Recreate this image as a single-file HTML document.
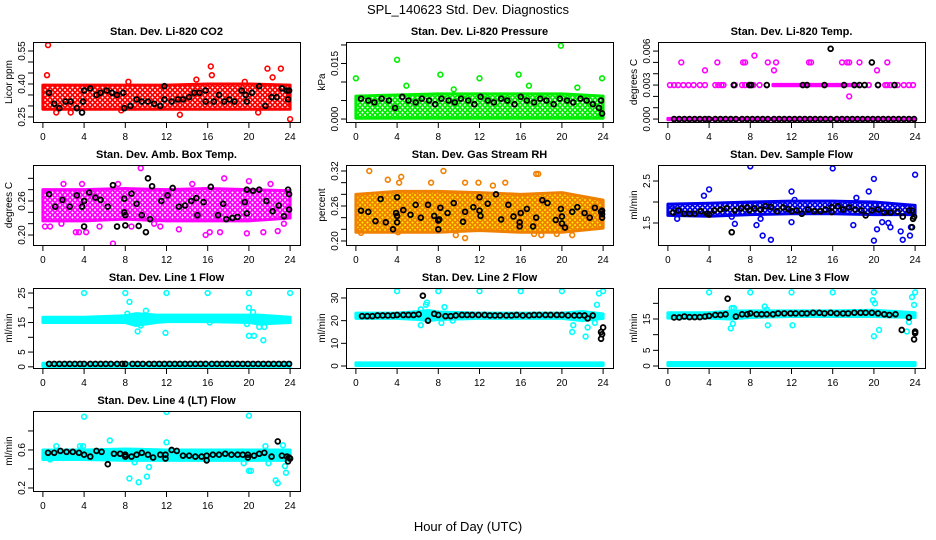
<!DOCTYPE html>
<html><head><meta charset="utf-8"><style>
body{margin:0;background:#fff}
svg{display:block;font-family:"Liberation Sans",sans-serif}
</style></head><body>
<svg id="chart" width="936" height="540" viewBox="0 0 936 540">
<text x="468" y="14" text-anchor="middle" font-size="13">SPL_140623  Std. Dev. Diagnostics</text>
<text x="468" y="531" text-anchor="middle" font-size="13">Hour of Day (UTC)</text>
</svg>
<script>
// ---- data ----
const xTicks = [0,4,8,12,16,20,24];
// CO2
const co2BandHours=[0,4,8,12,16,20,24], co2BandLo=[0.285,0.285,0.285,0.285,0.285,0.285,0.285], co2BandHi=[0.395,0.395,0.395,0.395,0.4,0.4,0.395];
const co2Out=[[0.5,0.577],[0.4,0.44],[16.3,0.48],[16.4,0.44],[21.8,0.47],[23.1,0.47],[22.3,0.43],[20.9,0.27],[24,0.24],[13.3,0.26],[1.3,0.27],[7.6,0.28],[2.7,0.27],[14.9,0.42],[8.3,0.41],[19.6,0.41]];
const co2Black=[[0.6,0.36],[1.1,0.31],[1.6,0.29],[2.2,0.32],[2.7,0.32],[3.3,0.29],[3.8,0.27],[3.9,0.32],[4.0,0.37],[4.6,0.38],[5.2,0.35],[5.6,0.36],[6.2,0.37],[6.7,0.36],[7.2,0.35],[7.8,0.36],[7.9,0.29],[8.5,0.30],[9.1,0.33],[9.6,0.32],[10.2,0.32],[10.8,0.31],[11.4,0.30],[11.8,0.33],[11.8,0.39],[12.5,0.32],[13.1,0.33],[13.6,0.33],[14.2,0.34],[14.7,0.36],[15.2,0.36],[15.8,0.37],[15.8,0.32],[16.6,0.32],[17.1,0.35],[17.6,0.32],[18.1,0.33],[18.6,0.32],[19.3,0.37],[19.7,0.35],[19.8,0.32],[20.3,0.36],[21.0,0.39],[21.6,0.30],[22.2,0.34],[22.7,0.34],[23.2,0.38],[23.7,0.37],[23.8,0.33],[23.9,0.37]];
// Pressure
const prBandHours=[0,4,8,12,16,20,24], prBandLo=[0.0002,0.0002,0.0002,0.0002,0.0002,0.0002,0.0002], prBandHi=[0.0062,0.0065,0.0068,0.0068,0.0068,0.0068,0.0062];
const prOut=[[0,0.011],[4,0.016],[8.2,0.012],[12,0.011],[15.8,0.012],[19.9,0.0198],[4.9,0.009],[23.9,0.011],[16.8,0.009],[9.5,0.008],[21.5,0.0085]];
const prBlack=[[0.5,0.0055],[1.2,0.005],[1.8,0.0045],[2.5,0.0055],[3.2,0.005],[3.8,0.003],[4.5,0.006],[5.1,0.005],[5.8,0.0045],[6.4,0.0055],[7.1,0.005],[7.7,0.004],[8.3,0.0055],[9.0,0.005],[9.6,0.0045],[10.2,0.0055],[10.9,0.005],[11.5,0.004],[12.1,0.006],[12.8,0.005],[13.4,0.0045],[14.1,0.0055],[14.7,0.005],[15.4,0.004],[16,0.006],[16.6,0.005],[17.3,0.0045],[17.9,0.0055],[18.5,0.005],[19.2,0.004],[19.8,0.0055],[20.5,0.005],[21.1,0.0045],[21.8,0.0055],[22.4,0.005],[23.0,0.004],[23.6,0.003],[23.9,0.0015],[23.8,0.005]];
// Li-820 Temp
const tpBandHours=[0,24], tpBandLo=[-0.00006,-0.00006], tpBandHi=[0.00006,0.00006];
const tpMidBandHours=[10.2,18.5], tpMidBandLo=[0.00294,0.00294], tpMidBandHi=[0.00306,0.00306];
const tpOut=[[0.2,0.003],[0.6,0.003],[1.0,0.003],[1.5,0.003],[2.0,0.003],[2.5,0.003],[3.1,0.003],[3.6,0.003],[4.6,0.003],[4.9,0.003],[5.2,0.003],[5.4,0.003],[6.5,0.003],[7.2,0.003],[7.5,0.003],[8.0,0.003],[8.3,0.003],[8.9,0.003],[9.6,0.003],[19.5,0.003],[20.4,0.003],[21.1,0.003],[21.3,0.003],[21.6,0.003],[22.3,0.003],[22.9,0.003],[23.4,0.003],[23.8,0.003],[1.3,0.005],[3.6,0.0043],[4.8,0.005],[7.3,0.005],[7.5,0.005],[8.4,0.0056],[9.7,0.005],[10.3,0.0043],[10.5,0.005],[13.7,0.005],[13.9,0.005],[16.9,0.005],[17.4,0.005],[17.6,0.005],[17.6,0.002],[18.6,0.005],[20.3,0.0043],[21.3,0.005]];
const tpBlack=[[6.4,0.003],[7.9,0.003],[8.1,0.003],[9.6,0.003],[13.1,0.003],[13.5,0.003],[15.2,0.003],[17.1,0.003],[18.1,0.003],[18.6,0.003],[19.1,0.003],[20.4,0.003],[22.0,0.003],[15.8,0.0062],[19.8,0.005],[0.6,0],[1.1,0],[1.6,0],[2.1,0],[2.6,0],[3.1,0],[3.6,0],[4.0,0],[4.6,0],[5.1,0],[5.6,0],[6.1,0],[6.6,0],[7.2,0],[7.7,0],[8.2,0],[8.7,0],[9.2,0],[9.7,0],[10.3,0],[10.8,0],[11.3,0],[11.8,0],[12.3,0],[12.8,0],[13.3,0],[13.8,0],[14.3,0],[14.8,0],[15.3,0],[15.8,0],[16.4,0],[16.9,0],[17.4,0],[17.9,0],[18.4,0],[18.9,0],[19.4,0],[19.9,0],[20.4,0],[20.9,0],[21.4,0],[21.9,0],[22.4,0],[22.9,0],[23.4,0],[23.9,0]];
// Amb box temp
const abBandHours=[0,4,8,12,16,20,24], abBandLo=[0.225,0.225,0.228,0.225,0.225,0.225,0.23], abBandHi=[0.28,0.28,0.282,0.28,0.282,0.28,0.278];
const abOut=[[9.5,0.318],[7.3,0.29],[17.6,0.30],[20,0.295],[6.8,0.185],[0.2,0.215],[3.2,0.205],[3.5,0.205],[4.2,0.205],[11.4,0.215],[15.8,0.2],[16.2,0.205],[17.2,0.205],[19.8,0.203],[21.4,0.205],[22.8,0.207],[8.6,0.215],[10.8,0.22],[1.8,0.22],[13.2,0.21],[23.4,0.22],[0.7,0.215],[5.5,0.215],[2.0,0.29],[3.8,0.29],[14.5,0.29],[22.1,0.29]];
const abBlack=[[0.6,0.272],[1.2,0.25],[1.9,0.262],[2.6,0.25],[3.3,0.27],[3.8,0.25],[4.0,0.215],[4.0,0.26],[4.5,0.275],[5.1,0.266],[5.6,0.262],[6.3,0.25],[6.8,0.288],[7.2,0.215],[7.9,0.264],[7.9,0.24],[8.0,0.235],[8.0,0.217],[8.6,0.273],[9.1,0.255],[9.3,0.216],[9.6,0.235],[10.2,0.3],[10.0,0.205],[10.4,0.228],[10.6,0.286],[11.5,0.26],[12.1,0.27],[12.6,0.283],[13.2,0.25],[13.8,0.252],[14.4,0.26],[14.9,0.265],[15.0,0.235],[15.6,0.258],[16.3,0.285],[17.0,0.235],[17.5,0.255],[17.8,0.228],[18.4,0.23],[18.9,0.232],[19.6,0.258],[19.8,0.238],[19.8,0.28],[20.4,0.278],[21.0,0.28],[21.7,0.26],[22.3,0.242],[22.9,0.252],[23.4,0.233],[23.8,0.28],[23.9,0.272],[23.9,0.245]];
// Gas stream RH
const rhBandHours=[0,4,8,12,16,20,24], rhBandLo=[0.215,0.215,0.215,0.218,0.215,0.215,0.222], rhBandHi=[0.28,0.285,0.285,0.283,0.28,0.283,0.27];
const rhOut=[[1.3,0.32],[3.1,0.305],[4.2,0.30],[4.4,0.31],[8.5,0.32],[14.5,0.3],[17.5,0.315],[17.7,0.315],[11.9,0.3],[10.6,0.3],[13.3,0.295],[7.3,0.3],[10.6,0.205],[18,0.21],[17.3,0.212],[19.5,0.212],[4.1,0.215],[0.5,0.214],[9.7,0.21],[21,0.21]];
const rhBlack=[[0.5,0.252],[1.2,0.25],[1.9,0.234],[2.4,0.272],[2.9,0.232],[3.6,0.22],[4.0,0.275],[3.9,0.248],[4.0,0.243],[4.0,0.232],[4.6,0.253],[5.3,0.245],[5.8,0.262],[6.3,0.24],[7.0,0.262],[7.6,0.243],[8.2,0.257],[8.0,0.235],[8.1,0.237],[8.0,0.22],[8.9,0.248],[9.5,0.265],[10.4,0.233],[10.6,0.25],[11.4,0.258],[12.0,0.252],[12.1,0.243],[12.0,0.275],[12.8,0.264],[13.6,0.28],[14.1,0.237],[14.8,0.262],[15.3,0.242],[15.9,0.232],[16.0,0.248],[15.9,0.225],[16.6,0.255],[17.2,0.225],[17.5,0.24],[18.1,0.27],[18.6,0.265],[19.4,0.236],[19.9,0.255],[20.0,0.242],[20.0,0.23],[20.3,0.223],[21.0,0.25],[21.5,0.258],[22.2,0.248],[22.7,0.24],[23.2,0.257],[23.8,0.25],[23.9,0.24],[23.9,0.246],[23.9,0.252]];
// Sample flow
const sfBandHours=[0,4,8,12,16,20,24], sfBandLo=[1.68,1.66,1.7,1.72,1.72,1.7,1.7], sfBandHi=[1.95,1.97,2.0,2.02,2.02,2.0,1.92];
const sfOut=[[8,2.85],[16,2.8],[24,2.65],[20,2.55],[4,2.3],[19.5,2.25],[12,2.25],[3.5,2.15],[18.3,2.1],[12.3,2.05],[6.2,1.65],[6.5,1.48],[8.6,1.45],[9.2,1.2],[10,1.1],[12,1.52],[18,1.45],[20,1.08],[20.3,1.35],[20.8,1.52],[21.6,1.4],[21.4,1.5],[22.6,1.3],[22.8,1.1],[23.5,1.2],[23.6,1.4],[9.0,1.6],[0.9,1.6],[0.3,1.9]];
const sfBlack=[[0.5,1.75],[1.0,1.8],[1.6,1.72],[2.1,1.72],[2.6,1.72],[3.2,1.78],[3.8,1.72],[4.0,1.7],[4.5,1.8],[5.1,1.82],[5.7,1.85],[6.2,1.28],[6.5,1.8],[7.1,1.85],[7.7,1.87],[7.9,1.8],[8.4,1.85],[9.0,1.82],[9.5,1.9],[10.0,1.88],[10.6,1.78],[11.2,1.87],[11.7,1.83],[12.0,1.78],[12.5,1.8],[13.0,1.72],[13.6,1.82],[14.2,1.78],[14.8,1.78],[15.3,1.82],[15.9,1.88],[15.9,1.76],[16.5,1.9],[17.0,1.82],[17.6,1.87],[18.2,1.82],[18.8,1.8],[19.2,1.68],[19.8,1.8],[20.4,1.82],[21.0,1.75],[21.6,1.75],[22.3,1.77],[22.8,1.65],[23.4,1.8],[23.7,1.8],[23.8,1.6],[23.9,1.65],[23.7,1.4]];
// Line 1
const l1BandHours=[0,4,8,9,10,11,12,16,20,21,24], l1BandLo=[15,15,15,14,14.5,15,15.3,15.3,15,14.5,15], l1BandHi=[16.8,16.8,17.3,18,17.8,17.5,17.5,17.5,17.5,17.5,16.8];
const l1LowBandHours=[0,24], l1LowBandLo=[0.1,0.1], l1LowBandHi=[1.2,1.2];
const l1Out=[[4,25],[8,25],[12,25],[16,25],[20,25],[24,25],[8.4,22],[8.2,18],[10,19],[9.8,17],[9.2,12],[11.9,11.5],[20,20],[20.4,18.5],[20,10.5],[20.5,10.5],[21.4,9],[21,13.5],[21.5,13.5],[9.5,14],[16.2,15],[19.8,14.5]];
const l1Black=[[0.6,1],[1.1,1],[1.6,1],[2.1,1],[2.6,1],[3.1,1],[3.6,1],[4.0,1],[4.6,1],[5.1,1],[5.6,1],[6.1,1],[6.6,1],[7.2,1],[7.7,1],[8.0,1],[8.7,1],[9.2,1],[9.7,1],[10.3,1],[10.8,1],[11.3,1],[11.8,1],[12.3,1],[12.8,1],[13.3,1],[13.8,1],[14.3,1],[14.8,1],[15.3,1],[15.8,1],[16.4,1],[16.9,1],[17.4,1],[17.9,1],[18.4,1],[18.9,1],[19.4,1],[19.9,1],[20.4,1],[20.9,1],[21.4,1],[21.9,1],[22.4,1],[22.9,1],[23.4,1],[23.9,1]];
// Line 2
const l2BandHours=[0,4,6,7,8,12,16,20,22,24], l2BandLo=[21,21,20.5,20,20.5,21,21,21,20,21], l2BandHi=[23.3,23.3,24,24.5,23.8,23.3,23.3,23.3,24,23];
const l2LowBandHours=[0,24], l2LowBandLo=[0.2,0.2], l2LowBandHi=[1.4,1.4];
const l2Out=[[4,33],[8,33],[12,33],[16,33],[20,33],[23.6,32],[24,33],[6.3,25],[6.5,22],[6.9,28],[6.8,27],[6.3,18],[8.6,26],[8.3,19],[9.4,20],[21.0,15],[21.1,18],[22.3,13],[23.4,27],[22.5,17],[23.2,19]];
const l2Black=[[0.6,22],[1.1,22],[1.6,22],[2.1,22.3],[2.6,22.3],[3.1,22.3],[3.6,22.3],[4.0,22.5],[4.6,22.5],[5.1,22.5],[5.6,22.5],[6.1,22.8],[6.5,31],[7.0,20],[7.6,23],[8.0,22.5],[8.7,22],[9.2,22],[9.7,22.3],[10.3,22.5],[10.8,22.5],[11.3,22.5],[11.9,22.5],[12.5,22.5],[13.0,22.3],[13.5,22.3],[14.0,22.3],[14.6,22.3],[15.1,22.3],[15.6,22.5],[16.2,22.3],[16.8,22.3],[17.3,22.5],[17.8,22.5],[18.4,22.5],[18.9,22.5],[19.5,22.5],[20.0,22.5],[20.6,22.3],[21.2,22.3],[21.7,22.3],[22.2,22.3],[22.5,21],[23.0,22.3],[23.8,12],[23.9,14],[23.8,15],[24,17]];
// Line 3
const l3BandHours=[0,4,6,8,12,16,20,24], l3BandLo=[15.3,15.3,15,15.5,15.8,15.8,15.8,15.5], l3BandHi=[17,17,17.5,17.6,17.6,17.6,17.8,17];
const l3LowBandHours=[0,24], l3LowBandLo=[0.1,0.1], l3LowBandHi=[1.1,1.1];
const l3Out=[[4,23.5],[8,23.5],[12,23.5],[16,23.5],[20,23.5],[24,23.5],[6.2,18.5],[6.4,18.5],[6.3,13.5],[6.1,12],[9.4,19],[9.6,18],[9.7,13],[12.1,13],[19.9,21],[20.1,20],[20.0,9.5],[20.5,11.5],[23.2,11],[23.7,22],[23.9,19.5],[23.4,14]];
const l3Black=[[0.6,15.5],[1.1,15.5],[1.6,15.8],[2.1,15.6],[2.6,15.6],[3.1,15.6],[3.6,15.8],[4.0,16],[4.6,16.3],[5.1,16.3],[5.6,16.5],[5.8,21.5],[6.6,15.8],[7.2,16.5],[7.7,16.5],[8.0,16.8],[8.6,16.5],[9.1,16.5],[9.6,16.5],[10.2,16.5],[10.7,16.8],[11.3,16.8],[11.9,16.8],[12.4,16.8],[13.0,16.8],[13.5,16.8],[14.1,17],[14.7,17],[15.2,16.8],[15.8,17],[16.4,16.8],[17.0,16.8],[17.5,16.8],[18.1,17],[18.7,17],[19.2,17],[19.8,17],[20.4,16.8],[21.0,16.5],[21.5,16.3],[22.1,16.5],[22.7,11.5],[23.4,15.5],[23.9,8.5],[24,10.5],[24.0,11]];
// Line 4
const l4BandHours=[0,4,8,12,16,20,24], l4BandLo=[0.5,0.5,0.49,0.49,0.49,0.49,0.49], l4BandHi=[0.6,0.6,0.61,0.6,0.6,0.6,0.6];
const l4Out=[[4,0.95],[12,1.0],[20,0.96],[6.5,0.7],[12,0.68],[8.4,0.3],[9.3,0.26],[10.1,0.32],[10.3,0.42],[19.5,0.46],[20,0.38],[20.2,0.38],[21.6,0.64],[22.6,0.28],[22.8,0.25],[23.6,0.36],[23.5,0.43],[23.3,0.65],[1.3,0.64],[3.6,0.64],[3.9,0.64],[21.9,0.46],[0.7,0.5],[8.9,0.47]];
const l4Black=[[0.5,0.57],[1.1,0.57],[1.7,0.59],[2.3,0.58],[2.9,0.58],[3.5,0.57],[4.0,0.55],[4.6,0.53],[5.2,0.59],[5.7,0.58],[6.3,0.45],[6.9,0.56],[7.5,0.56],[8.0,0.55],[8.0,0.53],[8.6,0.53],[9.1,0.55],[9.6,0.57],[10.2,0.55],[10.7,0.52],[11.4,0.55],[11.9,0.51],[11.9,0.55],[12.5,0.6],[13.0,0.59],[13.6,0.54],[14.2,0.54],[14.8,0.53],[15.4,0.53],[15.9,0.49],[15.9,0.54],[16.5,0.55],[17.1,0.55],[17.7,0.56],[18.3,0.55],[18.9,0.55],[19.4,0.55],[19.9,0.52],[19.9,0.55],[20.5,0.54],[21.0,0.56],[21.5,0.57],[22.2,0.53],[22.8,0.69],[23.2,0.54],[23.7,0.53],[23.8,0.48],[24.0,0.51],[23.9,0.52]];

// ---- drawing ----
const NS='http://www.w3.org/2000/svg';
const svg=document.getElementById('chart');
function mk(tag,attrs,parent){const e=document.createElementNS(NS,tag);for(const k in attrs)e.setAttribute(k,attrs[k]);(parent||svg).appendChild(e);return e;}
const defs=mk('defs',{});
const colX=[33,346,658], rowY=[42,165,288,411], W=267, H=80;
const panels=[
 {key:'co2',title:'Stan. Dev. Li-820 CO2',ylab:'Licor ppm',c:0,r:0,ylim:[0.227,0.591],ticks:[0.25,0.3,0.35,0.4,0.45,0.5,0.55],labels:{'0.25':'0.25','0.4':'0.40','0.55':'0.55'},col:'#ff0000',bg:'#ffffff',bands:[[co2BandHours,co2BandLo,co2BandHi]],out:co2Out,blk:co2Black},
 {key:'pressure',title:'Stan. Dev. Li-820 Pressure',ylab:'kPa',c:1,r:0,ylim:[-0.0008,0.0208],ticks:[0,0.005,0.01,0.015,0.02],labels:{'0':'0.000','0.015':'0.015'},col:'#00ee00',bg:'#ffffff',bands:[[prBandHours,prBandLo,prBandHi]],out:prOut,blk:prBlack},
 {key:'li820-temp',title:'Stan. Dev. Li-820 Temp.',ylab:'degrees C',c:2,r:0,ylim:[-0.00026,0.0068],ticks:[0,0.001,0.002,0.003,0.004,0.005,0.006],labels:{'0':'0.000','0.003':'0.003','0.006':'0.006'},col:'#ff00ff',bg:'#ff00ff',bands:[[tpBandHours,tpBandLo,tpBandHi],[tpMidBandHours,tpMidBandLo,tpMidBandHi]],out:tpOut,blk:tpBlack},
 {key:'amb-box-temp',title:'Stan. Dev. Amb. Box Temp.',ylab:'degrees C',c:0,r:1,ylim:[0.1824,0.3235],ticks:[0.2,0.22,0.24,0.26,0.28,0.3],labels:{'0.2':'0.20','0.26':'0.26'},col:'#ff00ff',bg:'#ffffff',bands:[[abBandHours,abBandLo,abBandHi]],out:abOut,blk:abBlack},
 {key:'gas-stream-rh',title:'Stan. Dev. Gas Stream RH',ylab:'percent',c:1,r:1,ylim:[0.1931,0.3303],ticks:[0.2,0.22,0.24,0.26,0.28,0.3,0.32],labels:{'0.2':'0.20','0.26':'0.26','0.32':'0.32'},col:'#f08000',bg:'#ffee00',bands:[[rhBandHours,rhBandLo,rhBandHi]],out:rhOut,blk:rhBlack},
 {key:'sample-flow',title:'Stan. Dev. Sample Flow',ylab:'ml/min',c:2,r:1,ylim:[0.976,2.881],ticks:[1.5,2,2.5],labels:{'1.5':'1.5','2.5':'2.5'},col:'#0000ee',bg:'#ffffff',bands:[[sfBandHours,sfBandLo,sfBandHi]],out:sfOut,blk:sfBlack},
 {key:'line1-flow',title:'Stan. Dev. Line 1 Flow',ylab:'ml/min',c:0,r:2,ylim:[-0.4,26.7],ticks:[0,5,10,15,20,25],labels:{'0':'0','5':'5','15':'15','25':'25'},col:'#00ffff',bg:'#00ffff',bands:[[l1BandHours,l1BandLo,l1BandHi],[l1LowBandHours,l1LowBandLo,l1LowBandHi]],out:l1Out,blk:l1Black},
 {key:'line2-flow',title:'Stan. Dev. Line 2 Flow',ylab:'ml/min',c:1,r:2,ylim:[-0.88,34.4],ticks:[0,10,20,30],labels:{'0':'0','10':'10','20':'20','30':'30'},col:'#00ffff',bg:'#00ffff',bands:[[l2BandHours,l2BandLo,l2BandHi],[l2LowBandHours,l2LowBandLo,l2LowBandHi]],out:l2Out,blk:l2Black},
 {key:'line3-flow',title:'Stan. Dev. Line 3 Flow',ylab:'ml/min',c:2,r:2,ylim:[-0.64,24.9],ticks:[0,5,10,15,20],labels:{'0':'0','5':'5','15':'15'},col:'#00ffff',bg:'#00ffff',bands:[[l3BandHours,l3BandLo,l3BandHi],[l3LowBandHours,l3LowBandLo,l3LowBandHi]],out:l3Out,blk:l3Black},
 {key:'line4-flow',title:'Stan. Dev. Line 4 (LT) Flow',ylab:'ml/min',c:0,r:3,ylim:[0.168,1.01],ticks:[0.2,0.4,0.6,0.8],labels:{'0.2':'0.2','0.6':'0.6'},col:'#00ffff',bg:'#00ffff',bands:[[l4BandHours,l4BandLo,l4BandHi]],out:l4Out,blk:l4Black}
];
panels.forEach(p=>{
  const L=colX[p.c], T=rowY[p.r], B=T+H;
  const sx=h=>L+(h+0.96)/25.92*W;
  const sy=v=>B-(v-p.ylim[0])/(p.ylim[1]-p.ylim[0])*H;
  // speckle pattern for the dense clouds
  const pat=mk('pattern',{id:'pat-'+p.key,width:5,height:5,patternUnits:'userSpaceOnUse'},defs);
  mk('rect',{x:0,y:0,width:5,height:5,fill:p.bg},pat);
  [[2.5,2.5],[0,0],[5,0],[0,5],[5,5]].forEach(q=>mk('circle',{cx:q[0],cy:q[1],r:1.9,fill:'none',stroke:p.col,'stroke-width':1.5},pat));
  const g=mk('g',{});
  
  
  const clip=mk('clipPath',{id:'clip-'+p.key},g);
  mk('rect',{x:L,y:T,width:W,height:H},clip);
  const plot=mk('g',{'clip-path':'url(#clip-'+p.key+')'},g);
  p.bands.forEach(b=>{
    const [hs,lo,hi]=b;
    const pts=hs.map((h,i)=>sx(h)+','+sy(hi[i])).concat(hs.map((h,i)=>sx(h)+','+sy(lo[i])).reverse());
    const poly=mk('polygon',{points:pts.join(' '),fill:'url(#pat-'+p.key+')',stroke:p.col,'stroke-width':3,'stroke-linejoin':'round'},plot);
    
    
  });
  p.out.forEach(d=>{
    const c=mk('circle',{cx:sx(d[0]),cy:sy(d[1]),r:2.4,fill:'none',stroke:p.col,'stroke-width':1.6},plot);
    
    
  });
  p.blk.forEach(d=>{
    const c=mk('circle',{cx:sx(d[0]),cy:sy(d[1]),r:2.4,fill:'none',stroke:'#000','stroke-width':1.8},plot);
    
    
  });
  const box=mk('rect',{x:L+0.5,y:T+0.5,width:W,height:H,fill:'none',stroke:'#000','stroke-width':1},g);
  
  
  const t=mk('text',{x:L+W/2,y:T-7,'text-anchor':'middle','font-size':11,'font-weight':'bold'},g);
  t.textContent=p.title;
  
  
  mk('line',{x1:sx(0),x2:sx(24),y1:B+0.5,y2:B+0.5,stroke:'#000'},g);
  xTicks.forEach(h=>{
    mk('line',{x1:sx(h),x2:sx(h),y1:B,y2:B+6,stroke:'#000'},g);
    const tl=mk('text',{x:sx(h),y:B+18,'text-anchor':'middle','font-size':10},g);
    tl.textContent=String(h);
    
    
  });
  const yt=p.ticks;
  mk('line',{x1:L+0.5,x2:L+0.5,y1:sy(yt[0]),y2:sy(yt[yt.length-1]),stroke:'#000'},g);
  yt.forEach(v=>{
    mk('line',{x1:L-5,x2:L,y1:sy(v),y2:sy(v),stroke:'#000'},g);
    const lab=p.labels[String(v)];
    if(lab){
      const yl=mk('text',{transform:'translate('+(L-8)+','+sy(v)+') rotate(-90)','text-anchor':'middle','font-size':10},g);
      yl.textContent=lab;
      
      
    }
  });
  const ylab=mk('text',{transform:'translate('+(L-21)+','+(T+H/2)+') rotate(-90)','text-anchor':'middle','font-size':10},g);
  ylab.textContent=p.ylab;
  
  
});
</script>
</body></html>
